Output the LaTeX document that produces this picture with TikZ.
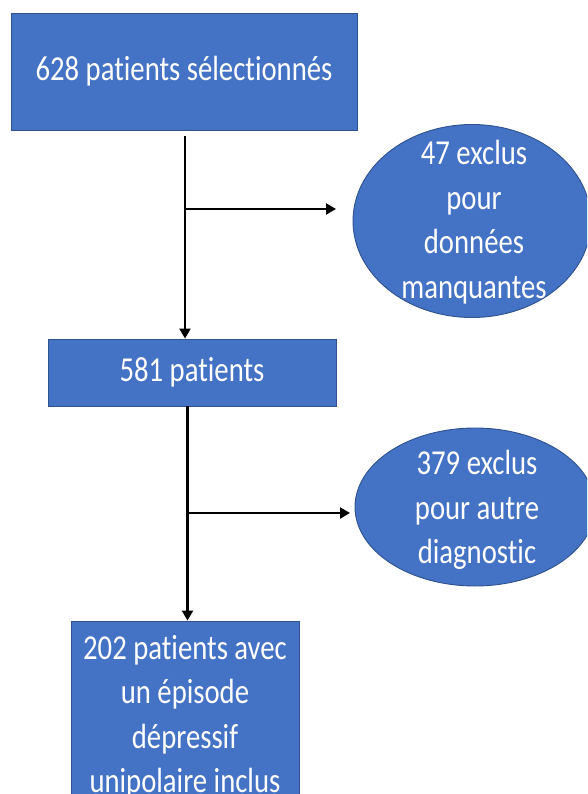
\documentclass[tikz,border=0pt]{standalone}
\usepackage{fontspec}
\setmainfont[FakeStretch=0.82,Ligatures=NoCommon]{Carlito}
\usetikzlibrary{shapes.geometric,arrows.meta}
\definecolor{boxblue}{HTML}{4472C4}
\definecolor{boxedge}{HTML}{2F528F}
\tikzset{
  boxstyle/.style={rectangle, fill=boxblue, draw=boxedge, line width=0.9pt, inner sep=0pt},
  ovalstyle/.style={ellipse, fill=boxblue, draw=boxedge, line width=0.9pt, inner sep=0pt},
  txt/.style={text=white, align=center, inner sep=0pt, font=\fontsize{35}{44.5}\selectfont},
  arr/.style={line width=2.2pt, -{Triangle[length=10pt,width=11pt]}},
}
\begin{document}
\begin{tikzpicture}[x=1pt,y=-1pt]
\useasboundingbox (0,0) rectangle (587,794);
\clip (0,0) rectangle (587,794);
% boxes
\node[boxstyle, minimum width=346pt, minimum height=117pt] (b1) at (184,71.5) {};
\node[txt] (t1) at (b1.center) {628 patients sélectionnés};
\node[boxstyle, minimum width=288pt, minimum height=67pt] (b2) at (192,372.5) {};
\node[txt] (t2) at (b2.center) {581 patients};
\node[boxstyle, minimum width=228pt, minimum height=220pt] (b3) at (185,731) {};
\node[txt] (t3) at (185,717) {202 patients avec\\un épisode\\dépressif\\unipolaire inclus};
% ovals
\node[ovalstyle, minimum width=238pt, minimum height=193pt] (e1) at (472,221) {};
\node[txt] (te1) at (474,222) {47 exclus\\pour\\données\\manquantes};
\node[ovalstyle, minimum width=240pt, minimum height=158pt] (e2) at (475,507) {};
\node[txt] (te2) at (477,510) {379 exclus\\pour autre\\diagnostic};
% connectors
\coordinate (c1) at (185,136);
\coordinate (j1) at (185,209);
\coordinate (a1) at (336,209);
\draw[arr] (c1) -- (c1 |- b2.north);
\draw[arr] (j1) -- (a1);
\coordinate (c2) at (187.5,406);
\coordinate (j2) at (187.5,513);
\coordinate (a2) at (350,513);
\draw[arr] (c2) -- (c2 |- b3.north);
\draw[arr] (j2) -- (a2);
\end{tikzpicture}
\end{document}
